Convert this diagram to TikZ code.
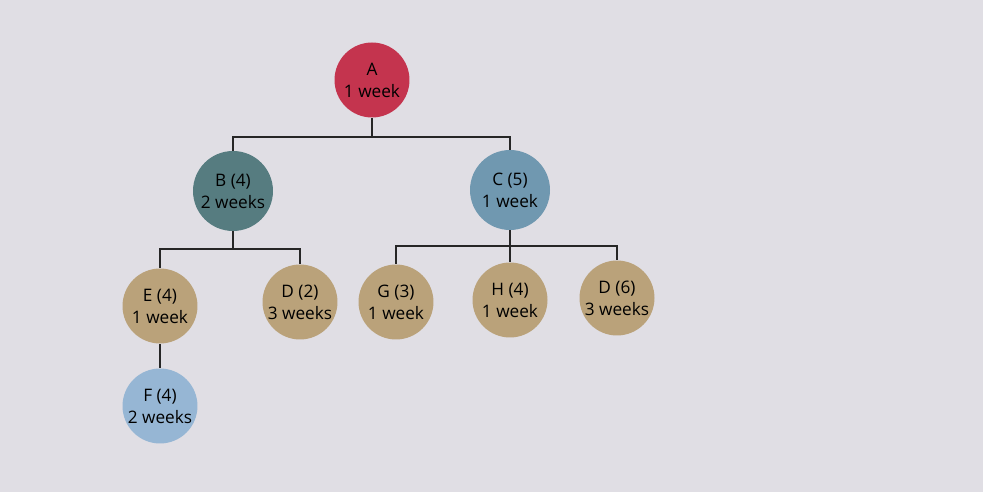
\documentclass[tikz,border=0pt]{standalone}
\usepackage{fontspec}
\setmainfont{Open Sans}
\usepackage{tikz}
\definecolor{mybackdrop}{RGB}{224,222,228}
\definecolor{myred}{RGB}{196,52,78}
\definecolor{myteal}{RGB}{86,124,128}
\definecolor{mysteel}{RGB}{112,152,176}
\definecolor{mytan}{RGB}{186,162,122}
\definecolor{mysky}{RGB}{150,182,212}
\tikzset{>=latex}
\usetikzlibrary{positioning,calc}

\begin{document}
\begin{tikzpicture}[x=0.02cm, y=-0.02cm, task/.style = {circle, inner sep=0pt, minimum size=1.5cm, align=center, font=\fontsize{9.8}{12.5}\selectfont}, link/.style = {draw, semithick, black!85}]
        \fill[mybackdrop] (0,0) rectangle (983,492);
        \useasboundingbox (0,0) rectangle (983,492);
        % top
        \node[task,fill=myred] (A) at (372,80) {A\\1 week};
        \node[task,fill=myteal,minimum size=1.6cm] (B) at (233,191) {B (4)\\2 weeks};
        \node[task,fill=mysteel,minimum size=1.6cm] (C) at (510,190) {C (5)\\1 week};
        % lower row
        \foreach \name/\x/\y/\lab/\dur in {E/160/306/E (4)/1 week, D2/300/302/D (2)/3 weeks, G/396/302/G (3)/1 week, H/510/300/H (4)/1 week, D6/617/298/D (6)/3 weeks}
        {%
            \node[task,fill=mytan] (\name) at (\x,\y) {\lab\\\dur};
        };
        \node[task,fill=mysky] (F) at (160,406) {F (4)\\2 weeks};
        % connectors
        \coordinate (barA) at (372,137);
        \coordinate (barB) at (233,249);
        \coordinate (barC) at (510,246);
        \draw[link] (A.south) -- (barA) -| (B.north);
        \draw[link] (barA) -| (C.north);
        \draw[link] (B.south) -- (barB) -| (E.north);
        \draw[link] (barB) -| (D2.north);
        \draw[link] (C.south) -- (barC) -| (G.north);
        \draw[link] (barC) -| (D6.north);
        \draw[link] (barC) -- (H.north);
        \draw[link] (E.south) -- (F.north);
\end{tikzpicture}
\end{document}
